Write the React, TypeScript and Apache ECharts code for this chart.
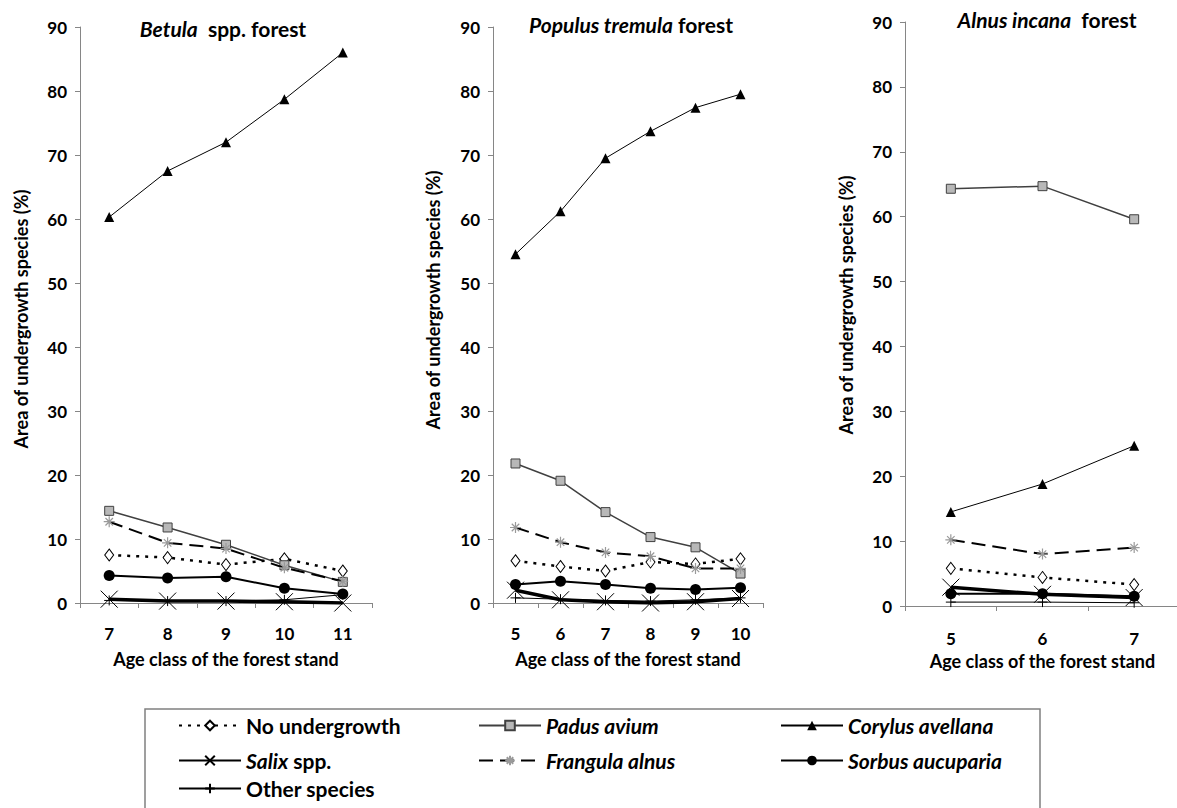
import React, { useEffect, useRef } from 'react';
import * as echarts from 'echarts';

const FONT = 'Lato';

// Categories (age classes)
const betulaAges = ['7', '8', '9', '10', '11'];
const populusAges = ['5', '6', '7', '8', '9', '10'];
const alnusAges = ['5', '6', '7'];

const yTicks = [0, 90, 10]; // min, max, interval

// Betula spp. forest
const betulaNoUnder = [7.5, 7.1, 6.0, 6.9, 5.0];
const betulaPadus = [14.4, 11.8, 9.1, 5.9, 3.3];
const betulaCorylus = [60.3, 67.5, 72.0, 78.7, 86.0];
const betulaSalix = [0.6, 0.3, 0.3, 0.2, 0.0];
const betulaFrangula = [12.7, 9.4, 8.5, 5.5, 3.4];
const betulaSorbus = [4.3, 3.9, 4.1, 2.3, 1.4];
const betulaOther = [0.4, 0.3, 0.3, 0.5, 1.3];

// Populus tremula forest
const populusNoUnder = [6.6, 5.7, 5.0, 6.4, 6.1, 6.9];
const populusPadus = [21.8, 19.1, 14.2, 10.3, 8.7, 4.6];
const populusCorylus = [54.5, 61.2, 69.5, 73.7, 77.4, 79.5];
const populusSalix = [2.0, 0.5, 0.2, 0.0, 0.2, 0.7];
const populusFrangula = [11.8, 9.5, 7.9, 7.3, 5.4, 5.4];
const populusSorbus = [2.9, 3.4, 2.9, 2.3, 2.1, 2.4];
const populusOther = [0.8, 0.6, 0.4, 0.3, 0.5, 0.8];

// Alnus incana forest
const alnusNoUnder = [5.8, 4.4, 3.3];
const alnusPadus = [64.3, 64.7, 59.6];
const alnusCorylus = [14.5, 18.8, 24.7];
const alnusSalix = [2.9, 1.8, 1.3];
const alnusFrangula = [10.2, 8.0, 9.0];
const alnusSorbus = [1.9, 1.9, 1.5];
const alnusOther = [0.6, 0.6, 0.5];

const speciesNames = [
  'No undergrowth',
  'Padus avium',
  'Corylus avellana',
  'Salix spp.',
  'Frangula alnus',
  'Sorbus aucuparia',
  'Other species',
];

const panelData = [
  [betulaNoUnder, betulaPadus, betulaCorylus, betulaSalix, betulaFrangula, betulaSorbus, betulaOther],
  [populusNoUnder, populusPadus, populusCorylus, populusSalix, populusFrangula, populusSorbus, populusOther],
  [alnusNoUnder, alnusPadus, alnusCorylus, alnusSalix, alnusFrangula, alnusSorbus, alnusOther],
];
const panelAges = [betulaAges, populusAges, alnusAges];

const X_SYM = 'path://M0,0L10,10M10,0L0,10';
const PLUS_SYM = 'path://M5,0L5,10M0,5L10,5';
const AST_SYM = 'path://M5,0L5,10M0,5L10,5M1.6,1.6L8.4,8.4M8.4,1.6L1.6,8.4';

const styles: any = {
  'No undergrowth': {
    symbol: 'diamond', symbolSize: [9, 12],
    itemStyle: { color: '#ffffff', borderColor: '#000000', borderWidth: 1 },
    lineStyle: { color: '#000000', width: 2.5, type: [3, 6] },
  },
  'Padus avium': {
    symbol: 'rect', symbolSize: 9,
    itemStyle: { color: '#b8b8b8', borderColor: '#404040', borderWidth: 1 },
    lineStyle: { color: '#404040', width: 1.5, type: 'solid' },
  },
  'Corylus avellana': {
    symbol: 'triangle', symbolSize: 10,
    itemStyle: { color: '#000000', borderColor: '#000000', borderWidth: 0 },
    lineStyle: { color: '#000000', width: 1, type: 'solid' },
  },
  'Salix spp.': {
    symbol: X_SYM, symbolSize: 17,
    itemStyle: { color: 'none', borderColor: '#000000', borderWidth: 1 },
    lineStyle: { color: '#000000', width: 3.5, type: 'solid' },
  },
  'Frangula alnus': {
    symbol: AST_SYM, symbolSize: 11,
    itemStyle: { color: 'none', borderColor: '#9a9a9a', borderWidth: 1.2 },
    lineStyle: { color: '#000000', width: 2, type: [14, 7] },
  },
  'Sorbus aucuparia': {
    symbol: 'circle', symbolSize: 11,
    itemStyle: { color: '#000000', borderColor: '#000000', borderWidth: 0 },
    lineStyle: { color: '#000000', width: 2, type: 'solid' },
  },
  'Other species': {
    symbol: PLUS_SYM, symbolSize: 10,
    itemStyle: { color: 'none', borderColor: '#000000', borderWidth: 1 },
    lineStyle: { color: '#000000', width: 1, type: 'solid' },
  },
};

const grids = [
  { left: 80, top: 27, width: 292, height: 576 },
  { left: 493, top: 27, width: 270, height: 576 },
  { left: 905, top: 22, width: 275, height: 584 },
];

const AXIS_GRAY = '#868686';

const legendPos: any = {
  'No undergrowth': [178, 727],
  'Salix spp.': [178, 762],
  'Other species': [178, 790],
  'Padus avium': [478, 727],
  'Frangula alnus': [478, 762],
  'Corylus avellana': [780, 727],
  'Sorbus aucuparia': [780, 762],
};

const legendText = (name: string) => {
  if (name === 'No undergrowth' || name === 'Other species') return '{n|' + name + '}';
  if (name === 'Salix spp.') return '{i|Salix} {n|spp.}';
  return '{i|' + name + '}';
};

export default function App() {
  const ref = useRef<HTMLDivElement>(null);
  useEffect(() => {
    if (!ref.current) return;
    const chart = echarts.init(ref.current, undefined, { renderer: 'svg' });

    const xAxis = panelAges.map((ages, i) => ({
      type: 'category',
      gridIndex: i,
      data: ages,
      boundaryGap: true,
      name: 'Age class of the forest stand',
      nameLocation: 'middle',
      nameGap: i === 2 ? 46 : 47,
      nameTextStyle: { fontFamily: FONT, fontWeight: 'bold', fontSize: 18, color: '#000' },
      axisLine: { lineStyle: { color: AXIS_GRAY, width: 1 } },
      axisTick: { show: true, inside: false, length: 5, lineStyle: { color: AXIS_GRAY } },
      axisLabel: { fontFamily: FONT, fontWeight: 'bold', fontSize: 17, color: '#000', margin: i === 2 ? 24 : 22 },
      splitLine: { show: false },
    }));

    const yAxis = panelAges.map((_, i) => ({
      type: 'value',
      gridIndex: i,
      min: yTicks[0],
      max: yTicks[1],
      interval: yTicks[2],
      axisLine: { show: true, lineStyle: { color: AXIS_GRAY, width: 1 } },
      axisTick: { show: true, inside: false, length: 5, lineStyle: { color: AXIS_GRAY } },
      axisLabel: { fontFamily: FONT, fontWeight: 'bold', fontSize: 17, color: '#000', margin: 13 },
      splitLine: { show: false },
    }));

    const series: any[] = [];
    panelData.forEach((list, p) => {
      list.forEach((values, s) => {
        const name = speciesNames[s];
        const st = styles[name];
        series.push({
          type: 'line',
          name,
          xAxisIndex: p,
          yAxisIndex: p,
          data: values,
          symbol: st.symbol,
          symbolSize: st.symbolSize,
          showAllSymbol: true,
          itemStyle: st.itemStyle,
          lineStyle: st.lineStyle,
          emphasis: { disabled: true },
          z: 2 + s,
        });
      });
    });

    const legend = speciesNames.map((name) => ({
      data: [name],
      left: legendPos[name][0],
      top: legendPos[name][1] - 12,
      padding: 0,
      itemWidth: 62,
      itemHeight: 12,
      itemGap: 0,
      selectedMode: false,
      formatter: legendText,
      textStyle: {
        fontFamily: FONT, fontWeight: 'bold', fontSize: 21, color: '#000',
        rich: {
          i: { fontFamily: FONT, fontWeight: 'bold', fontStyle: 'italic', fontSize: 21, color: '#000' },
          n: { fontFamily: FONT, fontWeight: 'bold', fontSize: 21, color: '#000' },
        },
      },
    }));

    const titleRich = {
      i: { fontFamily: FONT, fontWeight: 'bold', fontStyle: 'italic', fontSize: 21, color: '#000' },
      n: { fontFamily: FONT, fontWeight: 'bold', fontSize: 21, color: '#000' },
    };
    const title = [
      { text: '{i|Betula}  {n|spp. forest}', left: 223, top: 18 },
      { text: '{i|Populus tremula} {n|forest}', left: 631, top: 14 },
      { text: '{i|Alnus incana}  {n|forest}', left: 1047, top: 9 },
    ].map((t) => ({
      ...t,
      textAlign: 'center',
      padding: 0,
      textStyle: { fontFamily: FONT, fontWeight: 'bold', fontSize: 21, color: '#000', rich: titleRich },
    }));

    const yTitles = [
      [21, 319],
      [433, 300],
      [846, 305],
    ].map(([x, y]) => ({
      type: 'text',
      x,
      y,
      rotation: Math.PI / 2,
      style: {
        text: 'Area of undergrowth species (%)',
        align: 'center',
        verticalAlign: 'middle',
        fontFamily: FONT,
        fontWeight: 'bold',
        fontSize: 18,
        fill: '#000',
      },
    }));

    chart.setOption({
      animation: false,
      backgroundColor: '#ffffff',
      title,
      grid: grids.map((g) => ({ ...g, containLabel: false, outerBoundsMode: 'none' })),
      xAxis,
      yAxis,
      legend,
      series,
      graphic: [
        {
          type: 'rect',
          shape: { x: 145, y: 709, width: 895, height: 130 },
          style: { fill: 'none', stroke: '#808080', lineWidth: 1.5 },
          z: -1,
          silent: true,
        },
        ...yTitles,
      ],
    });

    return () => chart.dispose();
  }, []);

  return (
    <div
      ref={ref}
      style={{ position: 'absolute', left: 0, top: 0, width: 1177, height: 808 }}
    />
  );
}
